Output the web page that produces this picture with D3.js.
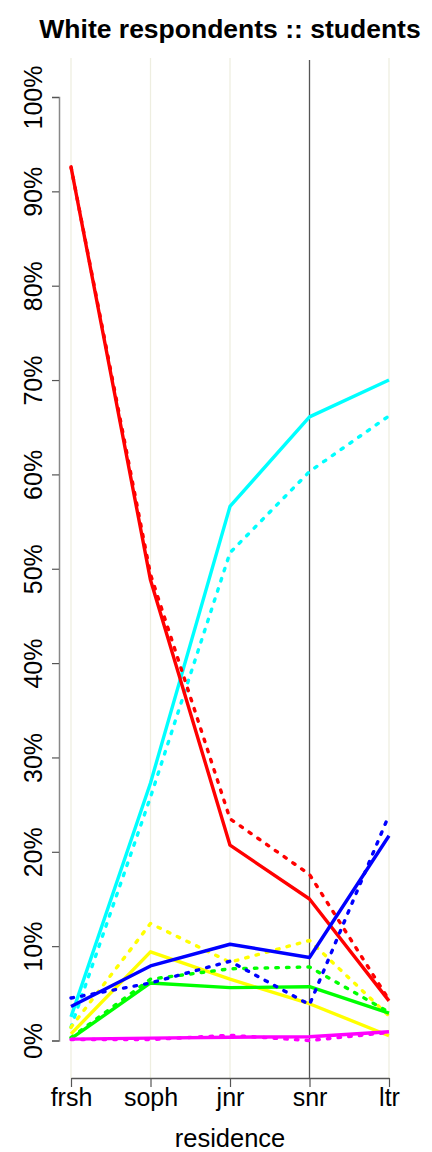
<!DOCTYPE html>
<html>
<head>
<meta charset="utf-8">
<script src="https://cdn.jsdelivr.net/npm/d3@7"></script>
<style>
  body { margin: 0; background: #fff; }
  text { font-family: "Liberation Sans", Arial, Helvetica, sans-serif; }
</style>
</head>
<body>
<div id="chart"></div>
<script>
// categories on the x axis
const residence = ["frsh", "soph", "jnr", "snr", "ltr"];

// percentages per residence, solid = one group, dotted = the other
const redSolid      = [92.6, 48.8, 20.7, 15.0, 4.2];
const redDotted     = [92.6, 49.4, 23.5, 17.6, 4.3];
const cyanSolid     = [2.5, 27.3, 56.6, 66.1, 70.0];
const cyanDotted    = [1.4, 25.8, 51.7, 60.3, 66.2];
const blueSolid     = [3.6, 7.9, 10.2, 8.8, 21.7];
const blueDotted    = [4.5, 6.1, 8.4, 3.8, 23.9];
const yellowSolid   = [0.7, 9.4, 6.5, 3.9, 0.5];
const yellowDotted  = [1.4, 12.4, 8.3, 10.6, 2.6];
const greenSolid    = [0.2, 6.1, 5.6, 5.7, 2.9];
const greenDotted   = [0.3, 6.5, 7.6, 7.8, 3.0];
const magentaSolid  = [0.15, 0.25, 0.35, 0.4, 0.93];
const magentaDotted = [0.1, 0.1, 0.55, 0.0, 0.85];

const yTicks = [0, 10, 20, 30, 40, 50, 60, 70, 80, 90, 100];

const series = [
    { values: cyanSolid, color: "#00ffff", dotted: false },
    { values: cyanDotted, color: "#00ffff", dotted: true },
    { values: redSolid, color: "#ff0000", dotted: false },
    { values: redDotted, color: "#ff0000", dotted: true },
    { values: yellowSolid, color: "#ffff00", dotted: false },
    { values: yellowDotted, color: "#ffff00", dotted: true },
    { values: greenSolid, color: "#00ff00", dotted: false },
    { values: greenDotted, color: "#00ff00", dotted: true },
    { values: blueSolid, color: "#0000ff", dotted: false },
    { values: blueDotted, color: "#0000ff", dotted: true },
    { values: magentaSolid, color: "#ff00ff", dotted: false },
    { values: magentaDotted, color: "#ff00ff", dotted: true }
];

const width = 432;
const height = 1152;

const svg = d3.select("#chart")
    .append("svg")
    .attr("width", width)
    .attr("height", height);

const x = d3.scalePoint()
    .domain(residence)
    .range([71, 389]);

const y = d3.scaleLinear()
    .domain([0, 100])
    .range([1040.5, 97]);

const axisY = 1078;

// vertical reference lines
svg.selectAll(".vline")
    .data(residence)
    .enter()
    .append("line")
    .attr("x1", d => x(d))
    .attr("x2", d => x(d))
    .attr("y1", d => d === "snr" ? 60 : 58)
    .attr("y2", axisY)
    .attr("stroke", d => d === "snr" ? "#555" : "#eeeee0")
    .attr("stroke-width", 1.3);

// data lines
const line = d3.line()
    .x((d, i) => x(residence[i]))
    .y(d => y(d));

svg.selectAll(".series")
    .data(series)
    .enter()
    .append("path")
    .attr("d", d => line(d.values))
    .attr("fill", "none")
    .attr("stroke", d => d.color)
    .attr("stroke-width", 3.4)
    .attr("stroke-linejoin", "round")
    .attr("stroke-linecap", d => d.dotted ? "round" : "butt")
    .attr("stroke-dasharray", d => d.dotted ? "2.5,8.2" : null);

// y axis
const gy = svg.append("g")
    .attr("transform", "translate(59,0)")
    .call(d3.axisLeft(y)
        .tickValues(yTicks)
        .tickSize(7)
        .tickFormat(d => d + "%"));

gy.select(".domain").attr("stroke", "#888").attr("stroke-width", 1.5);
gy.selectAll(".tick line").attr("stroke", "#555").attr("stroke-width", 1.2);
gy.selectAll(".tick text")
    .attr("x", 0)
    .attr("y", 0)
    .attr("dy", 0)
    .attr("text-anchor", "middle")
    .attr("transform", "translate(-17,0) rotate(-90)")
    .style("font-size", "25px")
    .style("fill", "#000");

// x axis
const gx = svg.append("g")
    .attr("transform", `translate(0,${axisY})`)
    .call(d3.axisBottom(x).tickSize(9).tickSizeOuter(0));

gx.select(".domain").attr("stroke", "#555").attr("stroke-width", 1.3);
gx.selectAll(".tick line").attr("stroke", "#555").attr("stroke-width", 1.2);
gx.selectAll(".tick text")
    .attr("x", 0)
    .attr("y", 28)
    .attr("dy", 0)
    .attr("text-anchor", "middle")
    .style("font-size", "25px")
    .style("fill", "#000");

// title
svg.append("text")
    .attr("x", 230)
    .attr("y", 38)
    .attr("text-anchor", "middle")
    .style("font-size", "26.5px")
    .style("font-weight", "bold")
    .text("White respondents :: students");

// x label
svg.append("text")
    .attr("x", 230)
    .attr("y", 1147)
    .attr("text-anchor", "middle")
    .style("font-size", "25.5px")
    .text("residence");
</script>
</body>
</html>
